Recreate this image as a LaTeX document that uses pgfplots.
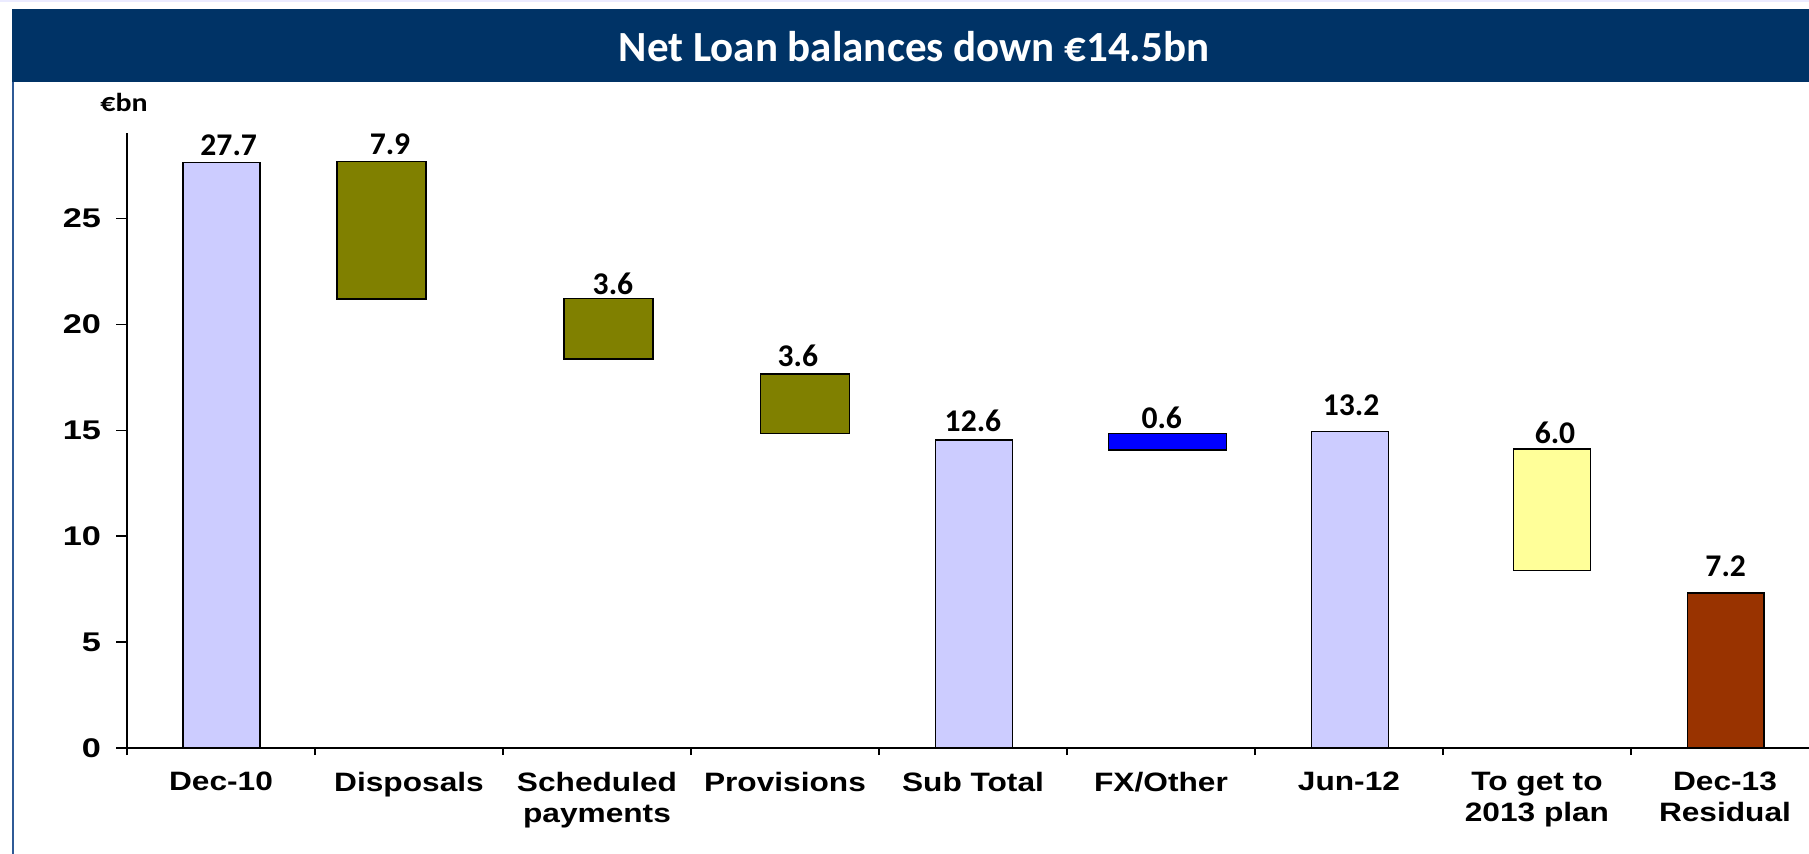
\documentclass[border=0pt]{standalone}
\usepackage{pgfplots}
\pgfplotsset{compat=1.18}
\usepackage{fontspec}
\setmainfont{Carlito}
\newfontfamily\axfont[FakeStretch=1.19]{Liberation Sans}
\newfontfamily\tkfont[FakeStretch=1.27]{Liberation Sans}
\newfontfamily\calfont{Carlito}
\newfontfamily\calwide[FakeStretch=1.15]{Carlito}

\definecolor{banner}{HTML}{003366}
\definecolor{sideblue}{HTML}{2F5A96}
\definecolor{lav}{HTML}{CCCCFF}
\definecolor{olivebar}{HTML}{808000}
\definecolor{fxblue}{HTML}{0000FF}
\definecolor{paleyel}{HTML}{FFFF99}
\definecolor{rust}{HTML}{993300}

\pgfplotsset{wf/.style={scale only axis, width=841pt, height=307.3pt,
  xmin=-0.5, xmax=8.447, ymin=0, ymax=29, enlargelimits=false,
  at={(63.5pt,-374pt)}, anchor=south west, clip=false}}

\begin{document}
\begin{tikzpicture}
\useasboundingbox (0,0) rectangle (904.5pt,-427pt);
\fill[blue!8!white] (0,0) rectangle (904.5pt,-0.8pt);
\fill[banner] (6pt,-4.65pt) rectangle (904.5pt,-40.85pt);
\draw[sideblue, line width=1.3pt] (6.5pt,-40.85pt) -- (6.5pt,-427pt);
\node[anchor=base, text=white, inner sep=0, font=\calfont\bfseries\fontsize{21.5}{24}\selectfont]
  at (457pt,-30.85pt) {Net Loan balances down €14.5bn};
\node[anchor=base west, inner sep=0, font=\calwide\bfseries\fontsize{13}{15}\selectfont]
  at (50pt,-55.85pt) {€bn};

% totals drawn from zero
\begin{axis}[wf, axis x line=bottom, axis y line=left,
  axis line style={-, black, line width=0.65pt},
  tick align=outside, major tick length=5.5pt, minor tick length=3.5pt,
  ytick={0,5,...,25},
  xtick={0,...,8}, minor xtick={-0.5,0.5,...,7.5},
  major x tick style={draw=none},
  tick style={black, line width=0.6pt},
  /pgf/number format/assume math mode=true,
  yticklabel style={font=\tkfont\bfseries\fontsize{13.5}{15}\selectfont, anchor=east, xshift=-4pt},
  xticklabels={Dec-10, Disposals, Scheduled\\payments, Provisions, Sub Total, FX/Other, Jun-12, To get to\\2013 plan, Dec-13\\Residual},
  xticklabel style={align=center, anchor=north, yshift=-3pt, font=\axfont\bfseries\fontsize{13.3}{15.5}\selectfont}]
\addplot[ybar, bar width=0.41, fill=lav, draw=black, line width=0.7pt] coordinates {(0.003,27.64) (4.005,14.54) (6.005,14.94)};
\addplot[ybar, bar width=0.407, fill=rust, draw=black, line width=0.7pt] coordinates {(8.005,7.31)};
\end{axis}

% floating bars: invisible base + visible step
\begin{axis}[wf, hide axis, ybar stacked, bar width=0.473]
\addplot[draw=none, fill=none] coordinates {(0.854,21.19) (2.061,18.36) (3.106,14.85)};
\addplot[fill=olivebar, draw=black, line width=0.7pt] coordinates {(0.854,6.48) (2.061,2.86) (3.106,2.80)};
\end{axis}
\begin{axis}[wf, hide axis, ybar stacked, bar width=0.628]
\addplot[draw=none, fill=none] coordinates {(5.035,14.06)};
\addplot[fill=fxblue, draw=black, line width=0.7pt] coordinates {(5.035,0.79)};
\end{axis}
\begin{axis}[wf, hide axis, ybar stacked, bar width=0.407]
\addplot[draw=none, fill=none] coordinates {(7.08,8.37)};
\addplot[fill=paleyel, draw=black, line width=0.7pt] coordinates {(7.08,5.73)};
\end{axis}

% data labels
\begin{axis}[wf, hide axis]
\begin{scope}[every node/.style={anchor=base, inner sep=0, font=\calfont\bfseries\fontsize{15.8}{18}\selectfont}]
\node at (axis cs:0.041,27.94) {27.7};
\node at (axis cs:0.899,27.99) {7.9};
\node at (axis cs:2.085,21.38) {3.6};
\node at (axis cs:3.069,17.99) {3.6};
\node at (axis cs:4.0,14.93) {12.6};
\node at (axis cs:5.004,15.09) {0.6};
\node at (axis cs:6.011,15.67) {13.2};
\node at (axis cs:7.096,14.35) {6.0};
\node at (axis cs:8.004,8.08) {7.2};
\end{scope}
\end{axis}
\end{tikzpicture}
\end{document}
